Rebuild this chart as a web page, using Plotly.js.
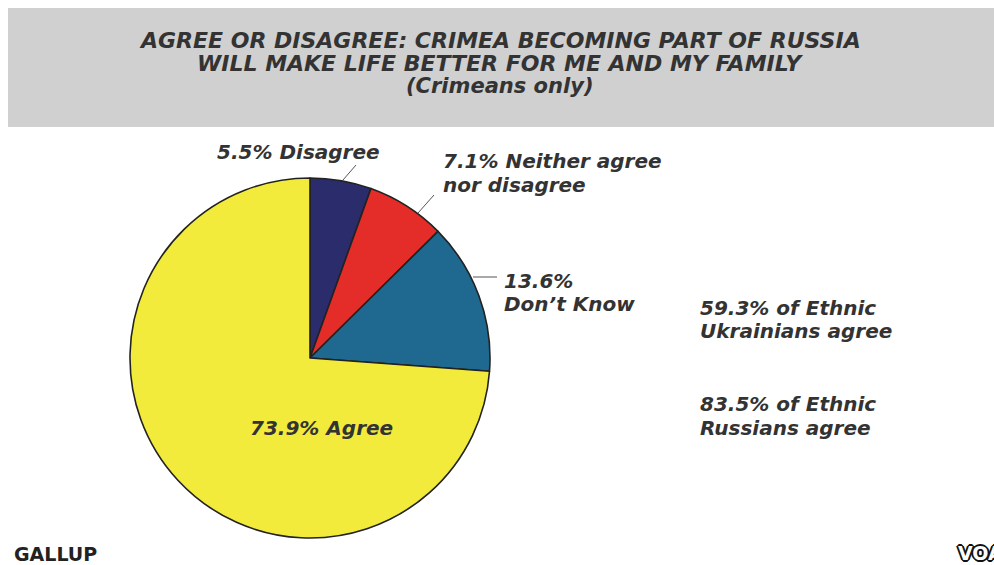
<!DOCTYPE html>
<html>
<head>
<meta charset="utf-8">
<script src="https://cdn.plot.ly/plotly-3.0.1.min.js"></script>
<style>html,body{margin:0;padding:0;background:#fff;}#chart{width:994px;height:565px;}</style>
</head>
<body>
<div id="chart"></div>
<script>
// ---- data ----
const categories = ['Disagree', 'Neither agree nor disagree', 'Don\u2019t Know', 'Agree'];
const shares = [5.5, 7.1, 13.6, 73.9];
const ethnicGroups = ['Ukrainians', 'Russians'];
const ethnicAgree = [59.3, 83.5];
const titleLines = ['AGREE OR DISAGREE: CRIMEA BECOMING PART OF RUSSIA', 'WILL MAKE LIFE BETTER FOR ME AND MY FAMILY', '(Crimeans only)'];
const sourceText = 'GALLUP';
const logoText = 'VOA';

// ---- styling ----
const W = 994, H = 565;
const px = x => x / W;
const py = y => 1 - y / H;
const sliceColors = ['#2B2C6C', '#E42D29', '#1F6890', '#F3EB3B'];
const txtColor = '#333333';
const FAM = 'DejaVu Sans, Verdana, sans-serif';
const labelFont = {family: FAM, size: 20, color: txtColor, weight: 'bold', style: 'italic'};
const titleFont = {family: FAM, size: 22, color: txtColor, weight: 'bold', style: 'italic'};
const subTitleFont = {family: FAM, size: 21, color: txtColor, weight: 'bold', style: 'italic'};

const cx = 310, cy = 358, r = 180;

const trace = {
  type: 'pie',
  labels: categories,
  values: shares,
  sort: false,
  direction: 'clockwise',
  rotation: 0,
  textinfo: 'none',
  hoverinfo: 'label+value',
  marker: {colors: sliceColors, line: {color: '#222222', width: 1.6}},
  domain: {x: [px(cx - r), px(cx + r)], y: [py(cy + r), py(cy - r)]},
  showlegend: false
};

const ann = [];
function addText(text, x, y, font, xanchor) {
  ann.push({text: text, x: px(x), y: py(y), xref: 'paper', yref: 'paper', xanchor: xanchor || 'left', yanchor: 'middle', showarrow: false, font: font, align: xanchor === 'center' ? 'center' : 'left'});
}
// title
addText(titleLines[0], 500, 40, titleFont, 'center');
addText(titleLines[1], 500, 63, titleFont, 'center');
addText(titleLines[2], 500, 86, subTitleFont, 'center');
// slice labels
addText(shares[0] + '% ' + categories[0], 215, 152, labelFont);
addText(shares[1] + '% Neither agree', 441, 161, labelFont);
addText('nor disagree', 441, 185, labelFont);
addText(shares[2] + '%', 502, 281, labelFont);
addText(categories[2], 502, 304, labelFont);
addText(shares[3] + '% ' + categories[3], 321, 428, labelFont, 'center');
// ethnic notes
addText(ethnicAgree[0] + '% of Ethnic', 698, 308, labelFont);
addText(ethnicGroups[0] + ' agree', 698, 331, labelFont);
addText(ethnicAgree[1] + '% of Ethnic', 698, 404, labelFont);
addText(ethnicGroups[1] + ' agree', 698, 428, labelFont);
// source & logo
addText(sourceText, 12, 554, {family: FAM, size: 19, color: '#222', weight: 'bold'});
addText(logoText, 956, 553, {family: FAM, size: 19, color: '#ffffff', weight: 'bold',
  shadow: '2px 0 0 #111, -2px 0 0 #111, 0 2px 0 #111, 0 -2px 0 #111, 1px 1px 0 #111, -1px -1px 0 #111, 1px -1px 0 #111, -1px 1px 0 #111'});

const lineStyle = {color: '#555555', width: 1};
const shapes = [
  {type: 'rect', xref: 'paper', yref: 'paper', x0: px(8), x1: px(994), y0: py(127), y1: py(8), fillcolor: '#D0D0D0', line: {width: 0}, layer: 'below'},
  {type: 'line', xref: 'paper', yref: 'paper', x0: px(343), y0: py(180), x1: px(356), y1: py(165), line: lineStyle},
  {type: 'line', xref: 'paper', yref: 'paper', x0: px(418), y0: py(213), x1: px(434), y1: py(195), line: lineStyle},
  {type: 'line', xref: 'paper', yref: 'paper', x0: px(473), y0: py(277), x1: px(497), y1: py(277), line: lineStyle}
];

const layout = {
  width: W, height: H,
  margin: {l: 0, r: 0, t: 0, b: 0},
  paper_bgcolor: '#ffffff',
  showlegend: false,
  annotations: ann,
  shapes: shapes
};

Plotly.newPlot('chart', [trace], layout, {displayModeBar: false, staticPlot: true});
</script>
</body>
</html>
